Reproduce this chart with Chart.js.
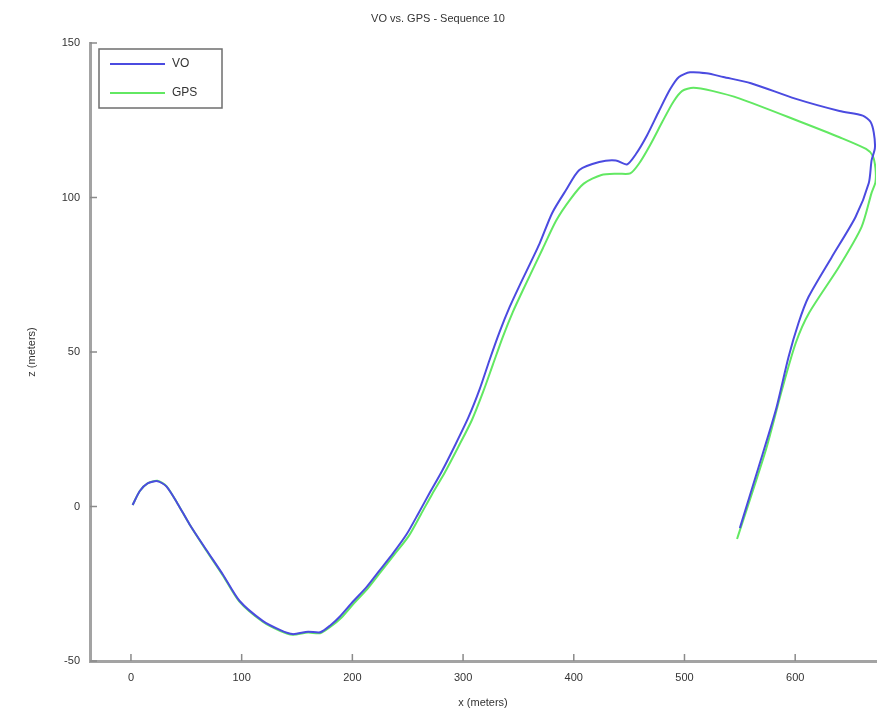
<!DOCTYPE html>
<html>
<head>
<meta charset="utf-8">
<script src="https://cdn.jsdelivr.net/npm/chart.js@4"></script>
<style>
html,body{margin:0;padding:0;background:#fff;}
#c{display:block;}
</style>
</head>
<body>
<canvas id="c" width="884" height="714"></canvas>
<script>
// ---- data (x, z in meters) ----
const seriesNames = ["VO", "GPS"];
const voX = [1.5, 8, 15, 24, 32, 42, 53, 68, 83, 98, 119, 135, 146, 160, 171, 180, 189, 200, 213, 225, 237, 249, 260, 270, 281, 293, 305, 315, 324, 333, 342, 351, 369, 380.5, 393, 405, 423, 438, 448, 456, 466, 477, 487, 495, 505, 520, 535, 560, 600, 640, 661, 668, 671, 672, 669, 666.5, 654.5, 633, 612, 603, 594, 582.5, 567, 550];
const voZ = [0.5, 5, 7.5, 8.2, 6.5, 1, -5.8, -14, -22, -30.5, -37, -40, -41.3, -40.5, -40.7, -38.5, -35.5, -31, -26, -20.5, -15, -9, -2, 4.5, 11.5, 20, 29, 38, 47.5, 56.5, 64.5, 71.5, 85, 95, 102.4, 108.9, 111.5, 112, 110.7, 114, 120, 128, 135, 139, 140.5, 140.2, 139, 137, 132, 128, 126.5, 124.5, 121, 116, 112, 104.7, 93.7, 80.7, 67.8, 59.4, 48.4, 31.2, 12.8, -7];
const gpsX = [1.5, 8, 15, 24, 32, 42, 53, 68, 83, 98, 119, 135, 146, 160, 171, 180, 190, 201, 214, 226, 238, 251, 262, 272, 283.5, 296, 308, 318, 327, 336, 345, 354, 372, 384, 397, 409, 425, 440, 451, 459, 469, 480, 490, 498, 508, 525, 550, 604, 640, 664, 670, 672.5, 672.5, 669, 660, 639.5, 612.5, 600.5, 588, 573.5, 547.5];
const gpsZ = [0.5, 5, 7.5, 8.3, 6.6, 1, -5.8, -14.2, -22.3, -30.8, -37.3, -40.3, -41.5, -40.8, -41, -39, -36, -31.5, -26.5, -21, -15.5, -9.5, -2.5, 4, 11, 19.5, 28, 37, 46, 55, 63, 70, 83.5, 92.5, 99.5, 104.5, 107.3, 107.7, 107.8, 111, 117, 124.5, 131, 134.5, 135.5, 134.5, 132, 124.6, 119.5, 115.7, 113.5, 109.5, 105, 101.5, 90.5, 77.5, 62.6, 52.9, 37.7, 18.3, -10.5];
const xTicks = [0, 100, 200, 300, 400, 500, 600];
const yTicks = [-50, 0, 50, 100, 150];
const titleText = "VO vs. GPS - Sequence 10";
const xLabel = "x (meters)";
const zLabel = "z (meters)";

const pts = (xs, zs) => xs.map((x, i) => ({x: x, y: zs[i]}));
const colors = ["#4b4be0", "#62e862"];
const FONT = "'Liberation Sans', Arial, sans-serif";

const inwardTicks = {
  id: 'inwardTicks',
  afterDraw(chart) {
    const {ctx, chartArea} = chart;
    const xs = chart.scales.x, ys = chart.scales.y;
    ctx.save();
    ctx.strokeStyle = '#8a8a8a';
    ctx.lineWidth = 1.5;
    xTicks.forEach(v => {
      const px = xs.getPixelForValue(v);
      ctx.beginPath(); ctx.moveTo(px, chartArea.bottom); ctx.lineTo(px, chartArea.bottom - 7); ctx.stroke();
    });
    yTicks.forEach(v => {
      const py = ys.getPixelForValue(v);
      ctx.beginPath(); ctx.moveTo(chartArea.left, py); ctx.lineTo(chartArea.left + 7, py); ctx.stroke();
    });
    ctx.restore();
  }
};

const boxLegend = {
  id: 'boxLegend',
  afterDraw(chart) {
    const {ctx, chartArea} = chart;
    const l = chartArea.left + 9, t = chartArea.top + 6, w = 123, h = 59;
    ctx.save();
    ctx.fillStyle = '#fff';
    ctx.fillRect(l, t, w, h);
    ctx.strokeStyle = '#6e6e6e';
    ctx.lineWidth = 1.5;
    ctx.strokeRect(l, t, w, h);
    ctx.font = "12px " + FONT;
    ctx.textBaseline = 'middle';
    chart.data.datasets.forEach((ds, i) => {
      const y = t + 15 + i * 29;
      ctx.strokeStyle = ds.borderColor;
      ctx.lineWidth = 2;
      ctx.beginPath(); ctx.moveTo(l + 11, y); ctx.lineTo(l + 66, y); ctx.stroke();
      ctx.fillStyle = '#333';
      ctx.fillText(ds.label, l + 73, y);
    });
    ctx.restore();
  }
};

new Chart(document.getElementById('c'), {
  type: 'scatter',
  data: {
    datasets: [
      {label: seriesNames[0], data: pts(voX, voZ), showLine: true, borderColor: colors[0], borderWidth: 2, pointRadius: 0, tension: 0.25, fill: false},
      {label: seriesNames[1], data: pts(gpsX, gpsZ), showLine: true, borderColor: colors[1], borderWidth: 2, pointRadius: 0, tension: 0.25, fill: false}
    ]
  },
  options: {
    responsive: false,
    animation: false,
    layout: {padding: {left: 0, right: 8, top: 0, bottom: 0}},
    plugins: {
      legend: {display: false},
      tooltip: {enabled: false},
      title: {display: true, text: titleText, color: '#333', font: {family: FONT, size: 11, weight: 'normal'}, padding: {top: 12, bottom: 17.8}}
    },
    scales: {
      x: {
        type: 'linear', min: -37, max: 673,
        afterFit(s) { s.height = 53; },
        afterBuildTicks(s) { s.ticks = xTicks.map(v => ({value: v})); },
        grid: {display: false, drawTicks: false},
        border: {display: true, color: '#a3a3a3', width: 3},
        ticks: {color: '#333', padding: 10, font: {family: FONT, size: 11}},
        title: {display: true, text: xLabel, color: '#333', font: {family: FONT, size: 11}, padding: {top: 0, bottom: 4}}
      },
      y: {
        type: 'linear', min: -50, max: 150,
        afterFit(s) { s.width = 90; },
        afterBuildTicks(s) { s.ticks = yTicks.map(v => ({value: v})); },
        grid: {display: false, drawTicks: false},
        border: {display: true, color: '#a3a3a3', width: 3},
        ticks: {color: '#333', padding: 10, font: {family: FONT, size: 11}},
        title: {display: true, text: zLabel, color: '#333', font: {family: FONT, size: 11}, padding: {top: 25, bottom: 0}}
      }
    }
  },
  plugins: [inwardTicks, boxLegend]
});
</script>
</body>
</html>
